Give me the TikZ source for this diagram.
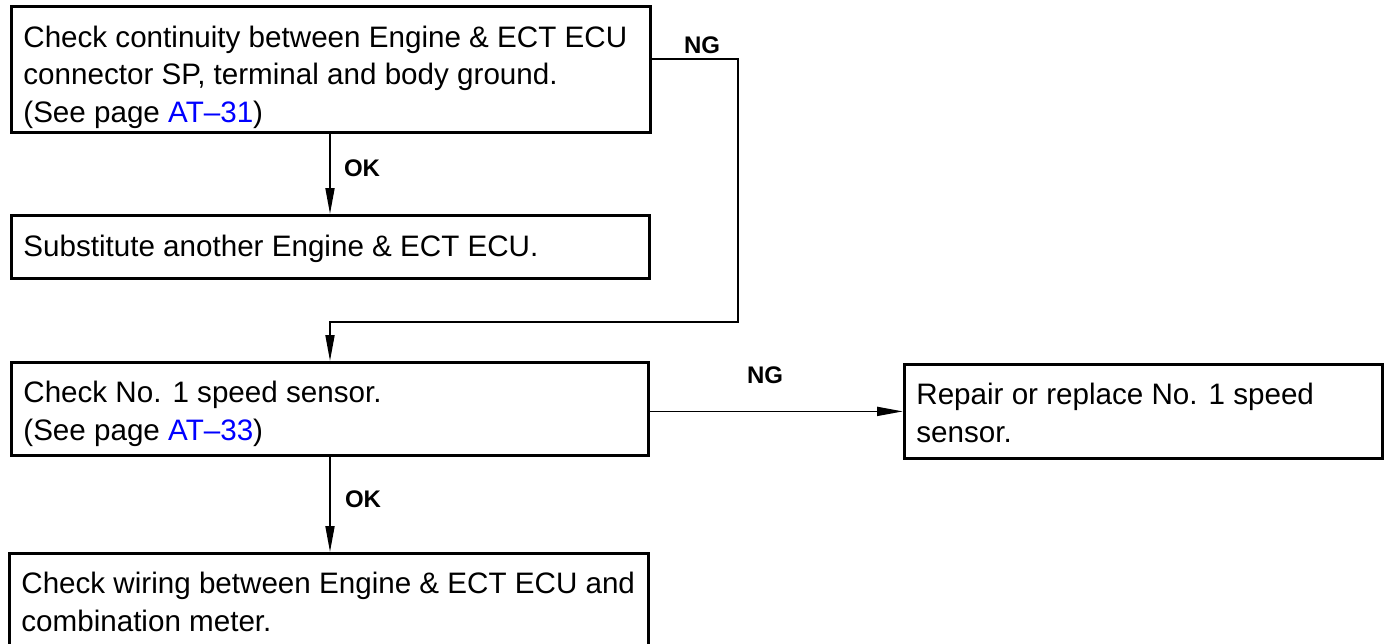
\documentclass[tikz,border=0pt]{standalone}
\usepackage{fontspec}
\setmainfont{Liberation Sans}
\usetikzlibrary{arrows.meta,calc}
\definecolor{linkblue}{RGB}{0,0,255}
\begin{document}
\begin{tikzpicture}[x=0.5pt,y=-0.5pt,
  box/.style={draw, line width=1.4pt, rectangle, inner sep=0pt, anchor=north west},
  txt/.style={anchor=base west, align=left, inner sep=0pt, font=\fontsize{14.8}{18.75}\selectfont},
  lbl/.style={font=\fontsize{12}{14}\selectfont\bfseries, inner sep=0pt},
  conn/.style={line width=0.9pt},
  arr/.style={conn, -{Triangle[length=13pt,width=4.5pt]}}]
\useasboundingbox (0,0) rectangle (1384,643);
\clip (0,0) rectangle (1384,643);
\fill[white] (0,0) rectangle (1384,643);

\node[box, minimum width=319.5pt, minimum height=63pt] (b1) at (10,5) {};
\node[box, minimum width=319pt, minimum height=31.5pt] (b2) at (10,214) {};
\node[box, minimum width=318.5pt, minimum height=46.5pt] (b3) at (10,361) {};
\node[box, minimum width=239pt, minimum height=47pt] (b4) at (903,363) {};
\node[box, minimum width=319.5pt, minimum height=60pt] (b5) at (8,552) {};

% base anchor of a multi-line node = baseline of its last line
\node[txt] (t1) at (23,122) {Check continuity between Engine \& ECT ECU\\connector SP, terminal and body ground.\\(See page {\color{linkblue}AT\textendash31})};
\node[txt] (t2) at (23,256) {Substitute another Engine \& ECT ECU.};
\node[txt] (t3) at (23,440) {Check No. 1 speed sensor.\\(See page {\color{linkblue}AT\textendash33})};
\node[txt] (t4) at (916,442) {Repair or replace No. 1 speed\\sensor.};
\node[txt] (t5) at (21,631) {Check wiring between Engine \& ECT ECU and\\combination meter.};

\coordinate (ax) at (330,0);
\coordinate (n1) at (738,59);
\coordinate (n2) at (738,322);
\coordinate (n3) at (330,322);

\draw[arr] (b1.south -| ax) -- (b2.north -| ax);
\draw[arr] (b1.east |- n1) -- (n1) -- (n2) -- (n3) -- (b3.north -| n3);
\draw[arr] (b3.east |- b4.west) -- (b4.west);
\draw[arr] (b3.south -| ax) -- (b5.north -| ax);

\node[lbl] (ok1) at (362,168) {OK};
\node[lbl] (ok2) at (363,499) {OK};
\node[lbl] (ng1) at (702,45) {NG};
\node[lbl] (ng2) at (765,375) {NG};
\end{tikzpicture}
\end{document}
